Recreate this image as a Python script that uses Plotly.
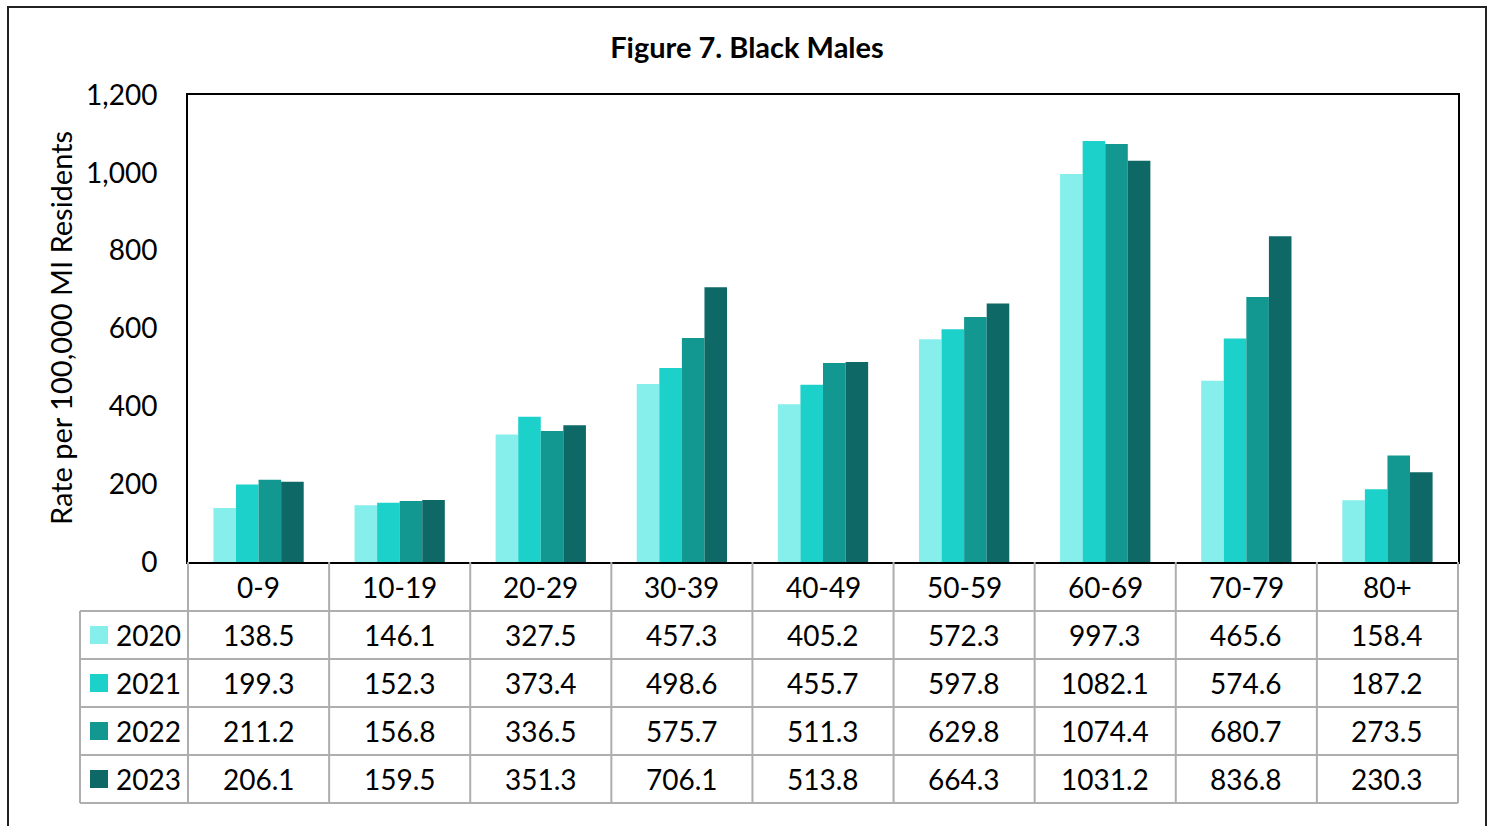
import plotly.graph_objects as go

# Age groups and rates per 100,000 residents
age_groups = ["0-9", "10-19", "20-29", "30-39", "40-49", "50-59", "60-69", "70-79", "80+"]
years = ["2020", "2021", "2022", "2023"]
rate_2020 = [138.5, 146.1, 327.5, 457.3, 405.2, 572.3, 997.3, 465.6, 158.4]
rate_2021 = [199.3, 152.3, 373.4, 498.6, 455.7, 597.8, 1082.1, 574.6, 187.2]
rate_2022 = [211.2, 156.8, 336.5, 575.7, 511.3, 629.8, 1074.4, 680.7, 273.5]
rate_2023 = [206.1, 159.5, 351.3, 706.1, 513.8, 664.3, 1031.2, 836.8, 230.3]
series = [rate_2020, rate_2021, rate_2022, rate_2023]
colors = ["#86EFEB", "#1DD1CB", "#139791", "#0E6865"]

W, H = 1494, 826
L, R, T, B = 188, 1458, 95, 562  # plot area in pixels
FONT = "Lato"
TXT = 28

def px(x):
    return (x - L) / (R - L)

def py(y):
    return (B - y) / (B - T)

fig = go.Figure()
for name, vals, col in zip(years, series, colors):
    fig.add_trace(go.Bar(x=age_groups, y=vals, name=name, marker_color=col,
                         marker_line_width=0, showlegend=False))

shapes = []
annotations = []
grid = dict(color="#AEAEAE", width=2)

# Data table under the axis
row_edges = [562, 611, 659, 707, 755, 803]
n = len(age_groups)
col_w = (R - L) / n
# vertical lines between category columns
for i in range(n + 1):
    x = px(L + i * col_w)
    shapes.append(dict(type="line", xref="paper", yref="paper", x0=x, x1=x,
                       y0=py(row_edges[0]), y1=py(row_edges[-1]), line=grid))
# legend column left edge
shapes.append(dict(type="line", xref="paper", yref="paper", x0=px(80), x1=px(80),
                   y0=py(row_edges[1]), y1=py(row_edges[-1]), line=grid))
# horizontal lines
for y in row_edges[1:]:
    shapes.append(dict(type="line", xref="paper", yref="paper", x0=px(80), x1=px(R),
                       y0=py(y), y1=py(y), line=grid))

# header row: age group labels
for i, g in enumerate(age_groups):
    cx = px(L + (i + 0.5) * col_w)
    annotations.append(dict(xref="paper", yref="paper", x=cx,
                            y=py((row_edges[0] + row_edges[1]) / 2), text=g,
                            showarrow=False, font=dict(size=TXT, color="#000000", family=FONT),
                            xanchor="center", yanchor="middle"))

# value rows with legend keys
for r, (name, vals, col) in enumerate(zip(years, series, colors)):
    y0, y1 = row_edges[r + 1], row_edges[r + 2]
    mid = (y0 + y1) / 2
    cy = py(mid)
    shapes.append(dict(type="rect", xref="paper", yref="paper",
                       x0=px(90), x1=px(108), y0=py(mid - 9), y1=py(mid + 9),
                       fillcolor=col, line=dict(width=0)))
    annotations.append(dict(xref="paper", yref="paper", x=px(114), y=cy, text=name,
                            showarrow=False, font=dict(size=TXT, color="#000000", family=FONT),
                            xanchor="left", yanchor="middle"))
    for i, v in enumerate(vals):
        cx = px(L + (i + 0.5) * col_w)
        annotations.append(dict(xref="paper", yref="paper", x=cx, y=cy, text=f"{v:.1f}",
                                showarrow=False, font=dict(size=TXT, color="#000000", family=FONT),
                                xanchor="center", yanchor="middle"))

# outer chart frame
shapes.append(dict(type="rect", xref="paper", yref="paper",
                   x0=px(8), x1=px(1486), y0=py(7), y1=py(840),
                   line=dict(color="#222222", width=2), fillcolor="rgba(0,0,0,0)", layer="below"))

# y-axis title
annotations.append(dict(xref="paper", yref="paper", x=px(60), y=py(328),
                        text="Rate per 100,000 MI Residents", textangle=-90, showarrow=False,
                        font=dict(size=29, color="#000000", family=FONT),
                        xanchor="center", yanchor="middle"))

fig.update_layout(
    width=W, height=H,
    margin=dict(l=L, r=W - R, t=T, b=H - B, pad=0),
    paper_bgcolor="white", plot_bgcolor="white",
    barmode="group", bargap=0.36, bargroupgap=0,
    title=dict(text="<b>Figure 7. Black Males</b>", x=0.5, xanchor="center",
               y=1 - 48 / H, yanchor="middle", font=dict(size=29, color="#000000", family=FONT)),
    xaxis=dict(showticklabels=False, ticks="", showgrid=False, showline=True,
               linecolor="#000000", linewidth=2, mirror=True),
    yaxis=dict(range=[0, 1200], dtick=200, tickformat=",", showgrid=False, zeroline=False,
               showline=True, linecolor="#000000", linewidth=2, mirror=True, ticks="",
               ticklabelstandoff=23,
               tickfont=dict(size=TXT, color="#000000", family=FONT)),
    shapes=shapes,
    annotations=annotations,
)

fig.write_html("out.html")
